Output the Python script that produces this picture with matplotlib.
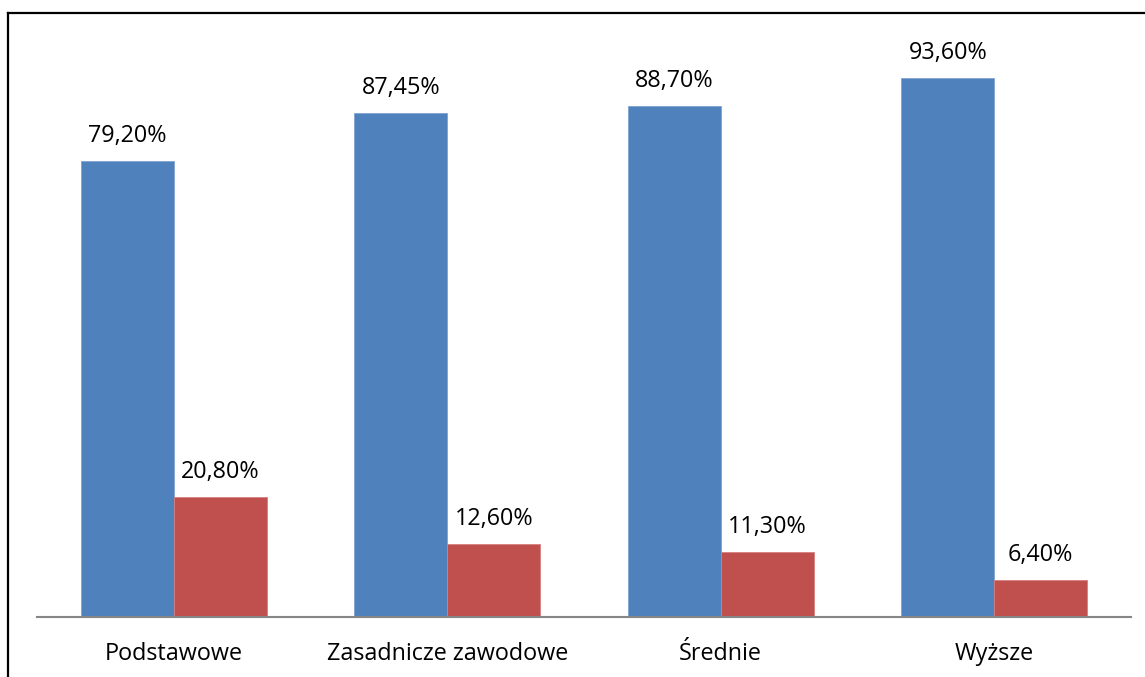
import matplotlib
matplotlib.use('Agg')
import matplotlib.pyplot as plt
import numpy as np
from matplotlib.lines import Line2D

categories = ['Podstawowe', 'Zasadnicze zawodowe', 'Średnie', 'Wyższe']
blue_vals = [79.20, 87.45, 88.70, 93.60]
red_vals = [20.80, 12.60, 11.30, 6.40]

plt.rcParams['font.family'] = ['Open Sans', 'DejaVu Sans']

W, H = 1145, 677
fig = plt.figure(figsize=(W / 100, H / 100), dpi=100)
ax = fig.add_axes([37 / W, (H - 617) / H, (1131 - 37) / W, (617 - 41) / H])

x = np.arange(len(categories))
w = 0.34
b1 = ax.bar(x - w / 2, blue_vals, w, color='#4f81bd', edgecolor='#7fa3d1', linewidth=0.6)
b2 = ax.bar(x + w / 2, red_vals, w, color='#c0504d', edgecolor='#d6807e', linewidth=0.6)

def fmt(v):
    return ('%.2f%%' % v).replace('.', ',')

for bars, vals in ((b1, blue_vals), (b2, red_vals)):
    for r, v in zip(bars, vals):
        ax.annotate(fmt(v), (r.get_x() + r.get_width() / 2, v),
                    xytext=(0, 13.7), textcoords='offset points',
                    ha='center', va='baseline', fontsize=16.8)

ax.set_xlim(-0.5, len(categories) - 0.5)
ax.set_ylim(0, 100)
ax.set_xticks(x)
ax.set_xticklabels(categories, fontsize=16.8)
ax.tick_params(axis='x', length=0, pad=18)
ax.set_yticks([])
for s in ('top', 'right', 'left'):
    ax.spines[s].set_visible(False)
ax.spines['bottom'].set_color('#868686')
ax.spines['bottom'].set_linewidth(1.5)

# outer frame (only left and top visible)
fig.add_artist(Line2D([7.5 / W, 7.5 / W], [0, 1 - 12.5 / H], color='black', lw=1.6,
                      transform=fig.transFigure))
fig.add_artist(Line2D([7.5 / W, 1], [1 - 12.5 / H, 1 - 12.5 / H], color='black', lw=1.6,
                      transform=fig.transFigure))

fig.savefig('out.png', dpi=100)
